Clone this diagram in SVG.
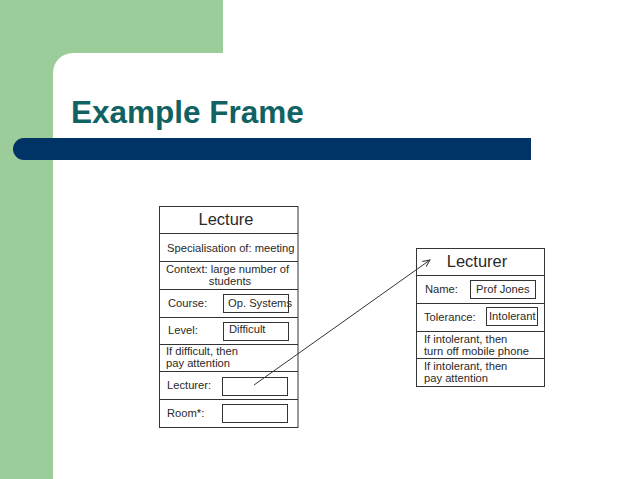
<svg xmlns="http://www.w3.org/2000/svg" width="638" height="479" viewBox="0 0 638 479">
<defs>
<style>
.frame{fill:#fff;stroke:#333;stroke-width:1}
.sep{stroke:#333;stroke-width:1}
.field{fill:#fff;stroke:#333;stroke-width:1}
.t{font-family:"Liberation Sans",Arial,sans-serif;font-size:11.2px;fill:#2a2a2a}
.h{font-family:"Liberation Sans",Arial,sans-serif;font-size:16.5px;fill:#2a2a2a;text-anchor:middle}
</style>
<marker id="arr" viewBox="0 0 10 10" refX="9" refY="5" markerWidth="8" markerHeight="8" orient="auto" markerUnits="userSpaceOnUse">
<path d="M0,1 L9,5 L0,9" fill="none" stroke="#333" stroke-width="1.2"/>
</marker>
</defs>
<rect width="638" height="479" fill="#fff"/>
<g id="background">
<rect x="0" y="0" width="223" height="53" fill="#9dcc9b"/>
<rect x="0" y="0" width="53" height="479" fill="#9dcc9b"/>
<path d="M53,53 L73,53 A20,20 0 0 0 53,73 Z" fill="#9dcc9b"/>
<path d="M24,138 L531,138 L531,160 L24,160 A11,11 0 0 1 24,138 Z" fill="#003366"/>
<text x="71" y="123" font-family="Liberation Sans,Arial,sans-serif" font-size="31.5" font-weight="bold" fill="#116262">Example Frame</text>
</g>
<g id="node-lecture">
<rect class="frame" x="159.5" y="206.5" width="138.5" height="221"/>
<line class="sep" x1="159.5" y1="233.5" x2="298" y2="233.5"/>
<line class="sep" x1="159.5" y1="261.5" x2="298" y2="261.5"/>
<line class="sep" x1="159.5" y1="289.5" x2="298" y2="289.5"/>
<line class="sep" x1="159.5" y1="317.5" x2="298" y2="317.5"/>
<line class="sep" x1="159.5" y1="344.5" x2="298" y2="344.5"/>
<line class="sep" x1="159.5" y1="371.5" x2="298" y2="371.5"/>
<line class="sep" x1="159.5" y1="399.5" x2="298" y2="399.5"/>
<text class="h" x="226" y="225">Lecture</text>
<text class="t" x="167" y="252">Specialisation of: meeting</text>
<text class="t" x="166" y="273">Context: large number of</text>
<text class="t" x="230" y="285" text-anchor="middle">students</text>
<text class="t" x="168" y="307">Course:</text>
<rect class="field" x="223.5" y="294.5" width="65" height="18"/>
<text class="t" x="228" y="307">Op. Systems</text>
<text class="t" x="168" y="334">Level:</text>
<rect class="field" x="223.5" y="322.5" width="65" height="18"/>
<text class="t" x="229" y="333">Difficult</text>
<text class="t" x="166" y="355">If difficult, then</text>
<text class="t" x="166" y="367">pay attention</text>
<text class="t" x="167" y="389">Lecturer:</text>
<rect class="field" x="222.5" y="377.5" width="65" height="18"/>
<text class="t" x="167" y="417">Room*:</text>
<rect class="field" x="222.5" y="404.5" width="65" height="18"/>
</g>
<g id="node-lecturer">
<rect class="frame" x="416.5" y="248.5" width="128" height="138"/>
<line class="sep" x1="416.5" y1="275.5" x2="544.5" y2="275.5"/>
<line class="sep" x1="416.5" y1="303.5" x2="544.5" y2="303.5"/>
<line class="sep" x1="416.5" y1="331.5" x2="544.5" y2="331.5"/>
<line class="sep" x1="416.5" y1="358.5" x2="544.5" y2="358.5"/>
<text class="h" x="477" y="267">Lecturer</text>
<text class="t" x="425" y="293">Name:</text>
<rect class="field" x="470.5" y="280.5" width="65" height="18"/>
<text class="t" x="476" y="293">Prof Jones</text>
<text class="t" x="424" y="321">Tolerance:</text>
<rect class="field" x="486.5" y="307.5" width="51" height="18"/>
<text class="t" x="489" y="320">Intolerant</text>
<text class="t" x="424" y="343">If intolerant, then</text>
<text class="t" x="424" y="355">turn off mobile phone</text>
<text class="t" x="424" y="370">If intolerant, then</text>
<text class="t" x="424" y="382">pay attention</text>
</g>
<g id="connectors">
<line x1="254" y1="385" x2="430" y2="260" stroke="#333" stroke-width="1" marker-end="url(#arr)"/>
</g>
</svg>
